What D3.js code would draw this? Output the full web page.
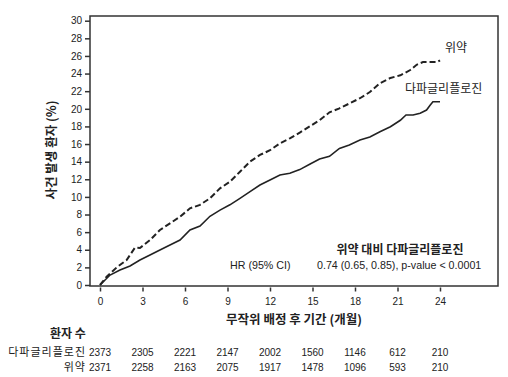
<!DOCTYPE html>
<meta charset="utf-8">
<script src="https://d3js.org/d3.v7.min.js"></script>
<style>
  body { margin: 0; background: #fff; }
  text { font-family: "Liberation Sans", Arial, "Noto Sans CJK KR", sans-serif; fill: #222; }
  .kr { font-family: "Noto Sans CJK KR", "Liberation Sans", sans-serif; }
</style>
<div id="chart"></div>
<script>

// data
var placeboMonths = [0, 0.47, 1.18, 1.88, 2.47, 2.82, 3.53, 4.23, 4.94, 5.65, 6.35, 7.06, 7.76, 8.47, 9.17, 9.88, 10.59, 11.29, 12.0, 12.7, 13.4, 14.1, 14.8, 15.5, 16.2, 16.9, 17.6, 18.35, 19.05, 19.76, 20.5, 21.2, 21.9, 22.35, 22.8, 23.8, 24.0];
var placeboPct    = [0, 0.94, 2.0, 2.84, 4.24, 4.2, 5.1, 6.24, 7.0, 7.75, 8.7, 9.1, 9.84, 10.97, 11.73, 12.86, 14.0, 14.76, 15.3, 16.08, 16.65, 17.3, 18.0, 18.7, 19.6, 20.05, 20.6, 21.2, 21.9, 22.9, 23.5, 23.8, 24.4, 25.0, 25.3, 25.3, 25.5];

var dapaMonths = [0, 0.71, 1.41, 2.12, 2.82, 3.53, 4.23, 4.94, 5.65, 6.35, 7.06, 7.76, 8.47, 9.17, 9.88, 10.59, 11.29, 12.0, 12.7, 13.4, 14.1, 14.8, 15.5, 16.2, 16.9, 17.6, 18.35, 19.05, 19.76, 20.5, 21.2, 21.6, 22.1, 22.6, 23.05, 23.3, 23.5, 24.0];
var dapaPct    = [0, 1.13, 1.7, 2.16, 2.84, 3.4, 3.97, 4.54, 5.1, 6.24, 6.7, 7.8, 8.5, 9.1, 9.84, 10.6, 11.35, 11.92, 12.49, 12.68, 13.1, 13.7, 14.3, 14.6, 15.5, 15.9, 16.46, 16.8, 17.4, 17.97, 18.7, 19.3, 19.3, 19.5, 19.86, 20.4, 20.8, 20.8];

var xTicks = [0, 3, 6, 9, 12, 15, 18, 21, 24];
var yTicks = [0, 2, 4, 6, 8, 10, 12, 14, 16, 18, 20, 22, 24, 26, 28, 30];

var atRiskDapa    = [2373, 2305, 2221, 2147, 2002, 1560, 1146, 612, 210];
var atRiskPlacebo = [2371, 2258, 2163, 2075, 1917, 1478, 1096, 593, 210];

var W = 508, H = 377;
var svg = d3.select("#chart").append("svg")
    .attr("width", W)
    .attr("height", H);

var x = d3.scaleLinear().domain([0, 24]).range([100, 440]);
var y = d3.scaleLinear().domain([0, 30]).range([285, 20.7]);

// frame
svg.append("rect")
    .attr("x", 90).attr("y", 16)
    .attr("width", 408).attr("height", 270)
    .attr("fill", "none")
    .attr("stroke", "#333")
    .attr("stroke-width", 1.5);

// y axis
var yAxis = svg.append("g")
    .attr("transform", "translate(90,0)")
    .call(d3.axisLeft(y).tickValues(yTicks).tickSize(5).tickPadding(3));
yAxis.select(".domain").remove();
yAxis.selectAll("line").attr("stroke", "#333").attr("stroke-width", 1.5);
yAxis.selectAll("text").style("font-size", "10px").style("font-family", "Liberation Sans, Arial, sans-serif").attr("fill", "#222");

// x axis (ticks sit just below the frame)
var xAxis = svg.append("g")
    .attr("transform", "translate(0,287.5)")
    .call(d3.axisBottom(x).tickValues(xTicks).tickSize(4).tickPadding(6));
xAxis.select(".domain").remove();
xAxis.selectAll("line").attr("stroke", "#333").attr("stroke-width", 1.5);
xAxis.selectAll("text").style("font-size", "10px").style("font-family", "Liberation Sans, Arial, sans-serif").attr("fill", "#222");

// axis titles
svg.append("text")
    .attr("class", "kr")
    .attr("transform", "translate(56,150) rotate(-90)")
    .attr("text-anchor", "middle")
    .style("font-size", "12.5px")
    .style("font-weight", "bold")
    .text("사건 발생 환자 (%)");

svg.append("text")
    .attr("class", "kr")
    .attr("x", 294).attr("y", 324)
    .attr("text-anchor", "middle")
    .style("font-size", "12.5px")
    .style("font-weight", "bold")
    .text("무작위 배정 후 기간 (개월)");

// curves
var line = d3.line()
    .x(function(d) { return x(d[0]); })
    .y(function(d) { return y(d[1]); });

svg.append("path")
    .datum(d3.zip(placeboMonths, placeboPct))
    .attr("d", line)
    .attr("fill", "none")
    .attr("stroke", "#222")
    .attr("stroke-width", 2)
    .attr("stroke-dasharray", "6,3");

svg.append("path")
    .datum(d3.zip(dapaMonths, dapaPct))
    .attr("d", line)
    .attr("fill", "none")
    .attr("stroke", "#222")
    .attr("stroke-width", 1.6);

// curve labels
svg.append("text").attr("class", "kr")
    .attr("x", 445).attr("y", 52)
    .style("font-size", "12px")
    .text("위약");
svg.append("text").attr("class", "kr")
    .attr("x", 405).attr("y", 93)
    .style("font-size", "12px")
    .text("다파글리플로진");

// HR box
svg.append("text").attr("class", "kr")
    .attr("x", 400).attr("y", 254)
    .attr("text-anchor", "middle")
    .style("font-size", "12px")
    .style("font-weight", "bold")
    .text("위약 대비 다파글리플로진");
svg.append("text")
    .attr("x", 230).attr("y", 269)
    .style("font-size", "10.7px")
    .text("HR (95% CI)");
svg.append("text")
    .attr("x", 317).attr("y", 269)
    .style("font-size", "10.7px")
    .text("0.74 (0.65, 0.85), p-value < 0.0001");

// number at risk
svg.append("text").attr("class", "kr")
    .attr("x", 50).attr("y", 338)
    .style("font-size", "12px")
    .style("font-weight", "bold")
    .text("환자 수");

var rows = [
  { name: "다파글리플로진", vals: atRiskDapa, yy: 356 },
  { name: "위약", vals: atRiskPlacebo, yy: 371 }
];
rows.forEach(function(r) {
  svg.append("text").attr("class", "kr")
      .attr("x", 86).attr("y", r.yy)
      .attr("text-anchor", "end")
      .style("font-size", "11px")
      .style("letter-spacing", "1px")
      .text(r.name);
  svg.append("g").selectAll("text")
    .data(r.vals)
    .enter()
    .append("text")
      .attr("x", function(d, i) { return x(xTicks[i]); })
      .attr("y", r.yy)
      .attr("text-anchor", "middle")
      .style("font-size", "10px")
      .text(function(d) { return d; });
});

</script>
